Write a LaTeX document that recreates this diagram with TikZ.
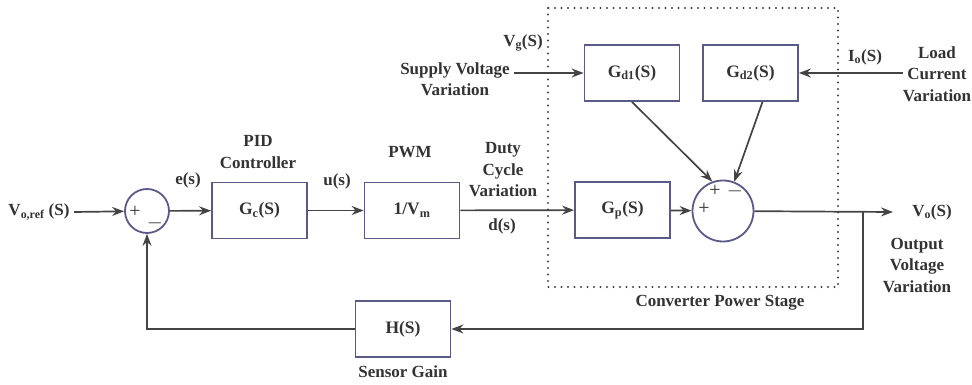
\documentclass[tikz,border=0pt]{standalone}
\usepackage{fontspec}
\setmainfont{Liberation Serif}
\usepackage{xcolor}
\usepackage{tikz}
\usetikzlibrary{arrows.meta,positioning,calc}
\definecolor{boxline}{HTML}{5A5A88}
\definecolor{wirec}{HTML}{444444}
\definecolor{ink}{HTML}{333333}

\begin{document}
\begin{tikzpicture}[
  x=1pt, y=-1pt,
  >={Stealth[length=12pt,width=9pt,inset=4pt]},
  block/.style={draw=boxline, line width=1.8pt, minimum width=95pt, minimum height=56pt,
    font=\bfseries\fontsize{17.5}{20}\selectfont, text=ink},
  sumc/.style={circle, draw=boxline, line width=1.8pt, inner sep=0pt},
  lbl/.style={font=\bfseries\fontsize{17}{21.5}\selectfont, text=ink, align=center, inner sep=1pt},
  sgn/.style={font=\fontsize{20}{22}\selectfont, text=ink, inner sep=0pt},
  wire/.style={draw=wirec, line width=1.7pt},
]
\useasboundingbox (0,0) rectangle (972,385);

% Converter power stage frame
\draw[wirec, line width=2.2pt, line cap=round, dash pattern=on 0pt off 6.5pt] (548,8) rectangle (838,287);
\node[lbl] (cps) at (720,303) {Converter Power Stage};

% Blocks
\node[sumc, minimum size=44pt] (s1) at (147,211) {};
\node[block] (gc) at (259.5,210.5) {G\textsubscript{c}(S)};
\node[block] (pwm) at (412,210.5) {1/V\textsubscript{m}};
\node[block] (gp) at (622.5,210) {G\textsubscript{p}(S)};
\node[sumc, minimum size=61pt] (s2) at (723,211) {};
\node[block] (gd1) at (632,73) {G\textsubscript{d1}(S)};
\node[block] (gd2) at (750.5,73) {G\textsubscript{d2}(S)};
\node[block] (h) at (403,329) {H(S)};

% Signs
\node[sgn] (s1p) at (135,212) {+};
\node[sgn] (s1m) at (155,223) {$-$};
\node[sgn] (s2p) at (704,209) {+};
\node[sgn] (s2q) at (715,191) {+};
\node[sgn] (s2m) at (735,191) {$-$};

% Labels
\node[lbl] (vref) at (39,212) {V\textsubscript{o,ref} (S)};
\node[lbl] (es) at (188,180) {e(s)};
\node[lbl] (pid) at (258,152) {PID\\Controller};
\node[lbl] (us) at (337,181) {u(s)};
\node[lbl] (pwmlbl) at (410,152) {PWM};
\node[lbl] (duty) at (503,170) {Duty\\Cycle\\Variation};
\node[lbl] (ds) at (502,226) {d(s)};
\node[lbl] (vg) at (523,43) {V\textsubscript{g}(S)};
\node[lbl] (supply) at (455,79) {Supply Voltage\\Variation};
\node[lbl] (io) at (865,57) {I\textsubscript{o}(S)};
\node[lbl] (load) at (937,74) {Load\\Current\\Variation};
\node[lbl] (vo) at (932,212) {V\textsubscript{o}(S)};
\node[lbl] (outv) at (917,265) {Output\\Voltage\\Variation};
\node[lbl] (sens) at (403,372) {Sensor Gain};

% Free ends
\coordinate (vin) at (74,212);
\coordinate (vout) at (893,212);
\coordinate (br) at (863,212);
\coordinate (sv) at (514,73);
\coordinate (lc) at (903,73);

% Forward path
\draw[wire, ->] (vin) -- (s1);
\draw[wire, ->] (s1) -- (gc);
\draw[wire, ->] (gc) -- (pwm);
\draw[wire, ->] (pwm) -- (gp);
\draw[wire, ->] (gp) -- (s2);
\draw[wire, ->] (s2) -- (vout);

% Disturbances
\draw[wire, ->] (sv) -- (gd1);
\draw[wire, ->] (lc) -- (gd2);
\draw[wire, ->] (gd1.south) -- (s2.110);
\draw[wire, ->] ($(gd2.south)+(12,0)$) -- (s2.69);

% Feedback
\draw[wire, ->] (br) |- (h);
\draw[wire, ->] (h) -| (s1);
\end{tikzpicture}
\end{document}
